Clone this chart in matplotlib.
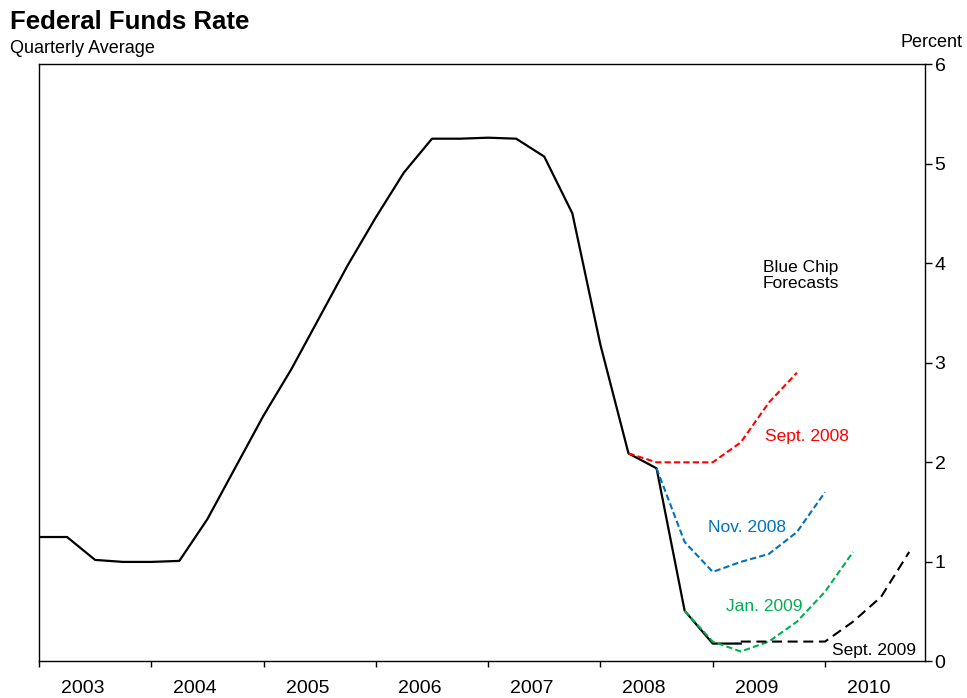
import matplotlib
matplotlib.use('Agg')
import matplotlib.pyplot as plt
import numpy as np

plt.rcParams['font.family'] = ['Liberation Sans', 'DejaVu Sans']

# 实际值: 2003Q1 - 2009Q2 (季度平均)
actual_x = np.arange(2003, 2009.26, 0.25)
actual = [1.25, 1.25, 1.02, 1.00, 1.00, 1.01, 1.43, 1.95,
          2.47, 2.94, 3.46, 3.98, 4.46, 4.91, 5.25, 5.25,
          5.26, 5.25, 5.07, 4.50, 3.18, 2.09, 1.94, 0.51,
          0.18, 0.18]

# Blue Chip 预测
sep08_x = np.arange(2008.25, 2009.76, 0.25)
sep08 = [2.09, 2.0, 2.0, 2.0, 2.2, 2.6, 2.9]
nov08_x = np.arange(2008.5, 2010.01, 0.25)
nov08 = [1.94, 1.2, 0.9, 1.0, 1.08, 1.3, 1.7]
jan09_x = np.arange(2008.75, 2010.26, 0.25)
jan09 = [0.51, 0.2, 0.1, 0.2, 0.4, 0.7, 1.1]
sep09_x = np.arange(2009.25, 2010.76, 0.25)
sep09 = [0.2, 0.2, 0.2, 0.2, 0.4, 0.65, 1.1]

years = list(range(2003, 2011))

fig = plt.figure(figsize=(9.67, 6.98), dpi=100)
ax = fig.add_axes([0.0403, 0.0523, 0.9162, 0.856])

ax.plot(actual_x, actual, color='black', linewidth=1.6)
ax.plot(sep08_x, sep08, color='#ff0000', linewidth=1.5, dashes=(3, 1.5))
ax.plot(nov08_x, nov08, color='#0070c0', linewidth=1.5, dashes=(3, 1.5))
ax.plot(jan09_x, jan09, color='#00b050', linewidth=1.5, dashes=(3, 1.5))
ax.plot(sep09_x, sep09, color='black', linewidth=1.5, dashes=(4.8, 2.7))

ax.set_xlim(2003, 2010.89)
ax.set_ylim(0, 6)

# 刻度
ax.yaxis.tick_right()
ax.set_yticks(range(0, 7))
ax.tick_params(axis='y', direction='out', length=5, width=1, labelsize=14, pad=2)
ax.set_xticks(years)
ax.set_xticklabels([])
ax.tick_params(axis='x', which='major', direction='out', length=4.5, width=1)
ax.set_xticks([y + 0.39 for y in years], minor=True)
ax.set_xticklabels([str(y) for y in years], minor=True)
ax.tick_params(axis='x', which='minor', length=0, labelsize=14, pad=13)
for s in ax.spines.values():
    s.set_linewidth(1.0)

# 标注
ax.text(2009.444, 3.914, 'Blue Chip', fontsize=12.5, ha='left', va='baseline')
ax.text(2009.444, 3.748, 'Forecasts', fontsize=12.5, ha='left', va='baseline')
ax.text(2009.465, 2.21, 'Sept. 2008', fontsize=12.5, color='#ff0000', va='baseline')
ax.text(2008.96, 1.30, 'Nov. 2008', fontsize=12.5, color='#0070c0', va='baseline')
ax.text(2009.117, 0.51, 'Jan. 2009', fontsize=12.5, color='#00b050', va='baseline')
ax.text(2010.064, 0.065, 'Sept. 2009', fontsize=12.5, color='black', va='baseline')

fig.text(0.0103, 0.958, 'Federal Funds Rate', fontsize=18.5, fontweight='bold', ha='left', va='baseline')
fig.text(0.0103, 0.924, 'Quarterly Average', fontsize=13, ha='left', va='baseline')
fig.text(0.995, 0.9322, 'Percent', fontsize=13, ha='right', va='baseline')

plt.savefig('out.png', dpi=100)
plt.close()
